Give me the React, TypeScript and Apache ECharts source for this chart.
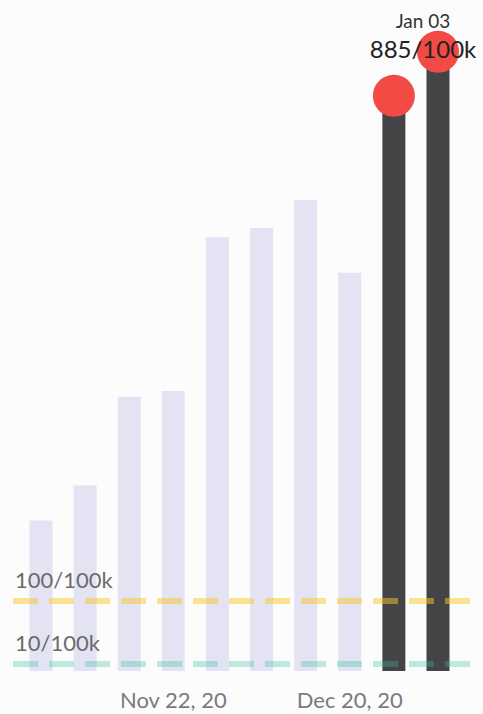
import React, { useEffect, useRef } from "react";
import * as echarts from "echarts";

const weeks = [
  "Nov 01, 20", "Nov 08, 20", "Nov 15, 20", "Nov 22, 20", "Nov 29, 20",
  "Dec 06, 20", "Dec 13, 20", "Dec 20, 20", "Dec 27, 20", "Jan 03, 21",
];
const rates = [215, 265, 392, 400, 620, 633, 673, 569, 822, 885];
const highlighted = [false, false, false, false, false, false, false, false, true, true];
const shownTicks = [3, 7];
const thresholds = [100, 10];
const thresholdLabels = ["100/100k", "10/100k"];
const latestLabel = "Jan 03";
const latestValue = "885/100k";

const FONT = "Lato, 'Open Sans', sans-serif";

export default function App() {
  const ref = useRef<HTMLDivElement>(null);
  useEffect(() => {
    document.body.style.margin = "0";
    const chart = echarts.init(ref.current!, null, { renderer: "svg" });
    const barData = rates.map((v, i) => ({
      value: [i, v],
      itemStyle: { color: highlighted[i] ? "#444447" : "#e3e3f3" },
    }));
    const dotData = rates
      .map((v, i) => (highlighted[i] ? [i, v] : null))
      .filter((d) => d !== null);
    const last = rates.length - 1;
    chart.setOption({
      animation: false,
      backgroundColor: "#fcfcfd",
      grid: { left: 8, right: 8, top: 30, bottom: 43 },
      xAxis: {
        type: "value",
        min: -0.748,
        max: 9.839,
        splitLine: { show: false },
        axisLine: { show: false },
        axisTick: { show: false },
        axisLabel: {
          customValues: shownTicks,
          formatter: (v: number) => weeks[Math.round(v)],
          color: "#7a7a7a",
          fontFamily: FONT,
          fontSize: 22,
          margin: 17,
        },
      },
      yAxis: {
        type: "value",
        min: 0,
        max: 916,
        show: false,
        splitLine: { show: false },
      },
      series: [
        {
          type: "bar",
          data: barData,
          barWidth: 23,
          z: 2,
        },
        {
          type: "scatter",
          data: dotData,
          symbolSize: 42,
          clip: false,
          z: 4,
          itemStyle: { color: "#f24a45", opacity: 1 },
          label: {
            show: true,
            formatter: (p: any) =>
              p.value[0] === last ? `{a|${latestLabel}}\n{b|${latestValue}}` : "",
            position: "inside",
            offset: [-15, -17],
            align: "center",
            rich: {
              a: { fontFamily: FONT, fontSize: 19, color: "#333", lineHeight: 28, align: "center" },
              b: { fontFamily: FONT, fontSize: 24, color: "#222", lineHeight: 28, align: "center" },
            },
          },
          markLine: {
            silent: true,
            symbol: "none",
            z: 3,
            data: [
              {
                yAxis: thresholds[0],
                lineStyle: { color: "rgba(250,200,40,0.5)", width: 6, type: [25, 11], dashOffset: 31 },
                label: { formatter: thresholdLabels[0] },
              },
              {
                yAxis: thresholds[1],
                lineStyle: { color: "rgba(60,190,160,0.33)", width: 6, type: [25, 11], dashOffset: 31 },
                label: { formatter: thresholdLabels[1] },
              },
            ],
            label: {
              show: true,
              position: "insideStartTop",
              distance: [7, 11],
              color: "#6b6b6b",
              fontFamily: FONT,
              fontSize: 22,
            },
          },
        },
      ],
    });
    return () => chart.dispose();
  }, []);
  return <div ref={ref} style={{ width: 483, height: 714 }} />;
}
